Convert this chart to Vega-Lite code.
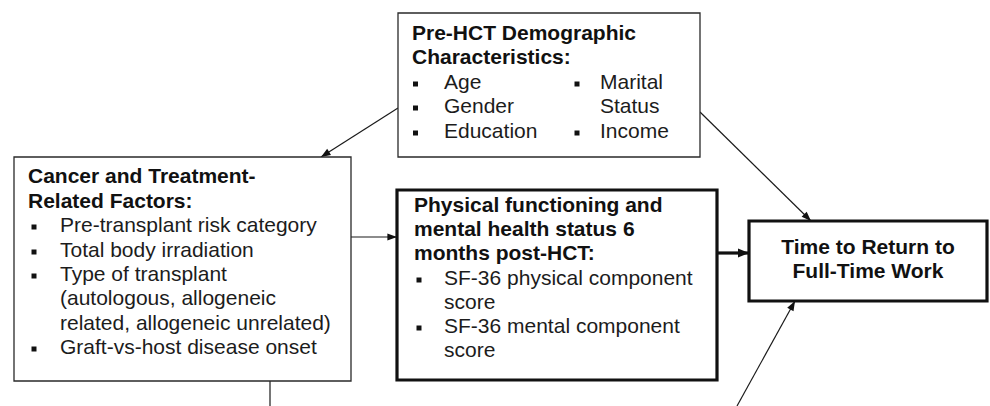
{
  "$schema": "https://vega.github.io/schema/vega-lite/v6.json",
  "width": 990,
  "height": 406,
  "autosize": "none",
  "padding": 0,
  "background": "white",
  "config": {"view": {"stroke": null}},
  "datasets": {
    "boxes": [
      {"id": "demographic", "x1": 398, "y1": 13, "x2": 700, "y2": 157},
      {"id": "cancer", "x1": 14, "y1": 157, "x2": 351, "y2": 381},
      {"id": "physical", "x1": 397, "y1": 190, "x2": 717, "y2": 380},
      {"id": "time", "x1": 749, "y1": 221, "x2": 987, "y2": 301}
    ],
    "texts": [
      {"box": "demographic", "role": "heading", "text": "Pre-HCT Demographic", "x": 412, "y": 40},
      {"box": "demographic", "role": "heading", "text": "Characteristics:", "x": 412, "y": 64},
      {"box": "demographic", "role": "item", "text": "Age", "x": 444, "y": 89},
      {"box": "demographic", "role": "item", "text": "Gender", "x": 444, "y": 113},
      {"box": "demographic", "role": "item", "text": "Education", "x": 444, "y": 138},
      {"box": "demographic", "role": "item", "text": "Marital", "x": 600, "y": 89},
      {"box": "demographic", "role": "item", "text": "Status", "x": 600, "y": 113},
      {"box": "demographic", "role": "item", "text": "Income", "x": 600, "y": 138},
      {"box": "cancer", "role": "heading", "text": "Cancer and Treatment-", "x": 28, "y": 183},
      {"box": "cancer", "role": "heading", "text": "Related Factors:", "x": 28, "y": 208},
      {"box": "cancer", "role": "item", "text": "Pre-transplant risk category", "x": 60, "y": 232},
      {"box": "cancer", "role": "item", "text": "Total body irradiation", "x": 60, "y": 257},
      {"box": "cancer", "role": "item", "text": "Type of transplant", "x": 60, "y": 281},
      {"box": "cancer", "role": "item", "text": "(autologous, allogeneic", "x": 60, "y": 305},
      {"box": "cancer", "role": "item", "text": "related, allogeneic unrelated)", "x": 60, "y": 330},
      {"box": "cancer", "role": "item", "text": "Graft-vs-host disease onset", "x": 60, "y": 354},
      {"box": "physical", "role": "heading", "text": "Physical functioning and", "x": 414, "y": 212},
      {"box": "physical", "role": "heading", "text": "mental health status 6", "x": 414, "y": 236},
      {"box": "physical", "role": "heading", "text": "months post-HCT:", "x": 414, "y": 260},
      {"box": "physical", "role": "item", "text": "SF-36 physical component", "x": 444, "y": 285},
      {"box": "physical", "role": "item", "text": "score", "x": 444, "y": 309},
      {"box": "physical", "role": "item", "text": "SF-36 mental component", "x": 444, "y": 333},
      {"box": "physical", "role": "item", "text": "score", "x": 444, "y": 357},
      {"box": "time", "role": "outcome", "text": "Time to Return to", "x": 868, "y": 254},
      {"box": "time", "role": "outcome", "text": "Full-Time Work", "x": 868, "y": 278}
    ],
    "bullets": [
      {"box": "demographic", "x": 415.5, "y": 84},
      {"box": "demographic", "x": 415.5, "y": 108},
      {"box": "demographic", "x": 415.5, "y": 133},
      {"box": "demographic", "x": 577, "y": 84},
      {"box": "demographic", "x": 577, "y": 133},
      {"box": "cancer", "x": 34, "y": 227},
      {"box": "cancer", "x": 34, "y": 252},
      {"box": "cancer", "x": 34, "y": 276},
      {"box": "cancer", "x": 34, "y": 349},
      {"box": "physical", "x": 419, "y": 280},
      {"box": "physical", "x": 419, "y": 328}
    ],
    "arrows": [
      {"from": "demographic", "to": "cancer", "x": 398, "y": 108, "tx": 321, "ty": 157, "ang": 237.5},
      {"from": "demographic", "to": "time", "x": 700, "y": 112, "tx": 811, "ty": 221, "ang": 134.5},
      {"from": "cancer", "to": "physical", "x": 351, "y": 237, "tx": 397, "ty": 237, "ang": 90},
      {"from": "physical", "to": "time", "x": 717, "y": 253, "tx": 749, "ty": 253, "ang": 90},
      {"from": "offpage", "to": "time", "x": 737, "y": 406, "tx": 795, "ty": 301, "ang": 28.9},
      {"from": "cancer", "to": "offpage", "x": 270, "y": 381, "tx": 270, "ty": 406, "ang": 180}
    ]
  },
  "layer": [
    {
      "data": {"name": "arrows"},
      "transform": [{"filter": "datum.from !== 'physical'"}],
      "mark": {"type": "rule", "color": "#1a1a1a", "strokeWidth": 1.2},
      "encoding": {
        "x": {"field": "x", "type": "quantitative", "scale": {"domain": [0, 990], "nice": false, "zero": false}, "axis": null},
        "y": {"field": "y", "type": "quantitative", "scale": {"domain": [0, 406], "nice": false, "zero": false, "reverse": true}, "axis": null},
        "x2": {"field": "tx"},
        "y2": {"field": "ty"}
      }
    },
    {
      "data": {"name": "arrows"},
      "transform": [{"filter": "datum.from === 'physical'"}],
      "mark": {"type": "rule", "color": "#111111", "strokeWidth": 3.2},
      "encoding": {
        "x": {"field": "x", "type": "quantitative", "scale": {"domain": [0, 990], "nice": false, "zero": false}, "axis": null},
        "y": {"field": "y", "type": "quantitative", "scale": {"domain": [0, 406], "nice": false, "zero": false, "reverse": true}, "axis": null},
        "x2": {"field": "tx"},
        "y2": {"field": "ty"}
      }
    },
    {
      "data": {"name": "arrows"},
      "transform": [{"filter": "datum.to !== 'offpage' && datum.from !== 'physical'"}],
      "mark": {"type": "point", "shape": "M0,0L-1.8,4.8L1.8,4.8Z", "filled": true, "color": "#111111", "size": 16, "opacity": 1},
      "encoding": {
        "x": {"field": "tx", "type": "quantitative", "scale": {"domain": [0, 990], "nice": false, "zero": false}, "axis": null},
        "y": {"field": "ty", "type": "quantitative", "scale": {"domain": [0, 406], "nice": false, "zero": false, "reverse": true}, "axis": null},
        "angle": {"field": "ang", "type": "quantitative", "scale": null}
      }
    },
    {
      "data": {"name": "arrows"},
      "transform": [{"filter": "datum.from === 'physical'"}],
      "mark": {"type": "point", "shape": "M0,0L-1.8,4.4L1.8,4.4Z", "filled": true, "color": "#111111", "size": 25, "opacity": 1},
      "encoding": {
        "x": {"field": "tx", "type": "quantitative", "scale": {"domain": [0, 990], "nice": false, "zero": false}, "axis": null},
        "y": {"field": "ty", "type": "quantitative", "scale": {"domain": [0, 406], "nice": false, "zero": false, "reverse": true}, "axis": null},
        "angle": {"field": "ang", "type": "quantitative", "scale": null}
      }
    },
    {
      "data": {"name": "boxes"},
      "transform": [{"filter": "datum.id === 'demographic' || datum.id === 'cancer'"}],
      "mark": {"type": "rect", "fill": "white", "stroke": "#2a2a2a", "strokeWidth": 1.3},
      "encoding": {
        "x": {"field": "x1", "type": "quantitative", "scale": {"domain": [0, 990], "nice": false, "zero": false}, "axis": null},
        "y": {"field": "y1", "type": "quantitative", "scale": {"domain": [0, 406], "nice": false, "zero": false, "reverse": true}, "axis": null},
        "x2": {"field": "x2"},
        "y2": {"field": "y2"}
      }
    },
    {
      "data": {"name": "boxes"},
      "transform": [{"filter": "datum.id === 'physical' || datum.id === 'time'"}],
      "mark": {"type": "rect", "fill": "white", "stroke": "#111111", "strokeWidth": 3.2},
      "encoding": {
        "x": {"field": "x1", "type": "quantitative", "scale": {"domain": [0, 990], "nice": false, "zero": false}, "axis": null},
        "y": {"field": "y1", "type": "quantitative", "scale": {"domain": [0, 406], "nice": false, "zero": false, "reverse": true}, "axis": null},
        "x2": {"field": "x2"},
        "y2": {"field": "y2"}
      }
    },
    {
      "data": {"name": "bullets"},
      "mark": {"type": "point", "shape": "square", "filled": true, "color": "#111111", "size": 25, "opacity": 1},
      "encoding": {
        "x": {"field": "x", "type": "quantitative", "scale": {"domain": [0, 990], "nice": false, "zero": false}, "axis": null},
        "y": {"field": "y", "type": "quantitative", "scale": {"domain": [0, 406], "nice": false, "zero": false, "reverse": true}, "axis": null}
      }
    },
    {
      "data": {"name": "texts"},
      "transform": [{"filter": "datum.role === 'item'"}],
      "mark": {"type": "text", "align": "left", "baseline": "alphabetic", "font": "Liberation Sans", "fontSize": 21, "color": "#1c1c1c"},
      "encoding": {
        "x": {"field": "x", "type": "quantitative", "scale": {"domain": [0, 990], "nice": false, "zero": false}, "axis": null},
        "y": {"field": "y", "type": "quantitative", "scale": {"domain": [0, 406], "nice": false, "zero": false, "reverse": true}, "axis": null},
        "text": {"field": "text"}
      }
    },
    {
      "data": {"name": "texts"},
      "transform": [{"filter": "datum.role === 'heading'"}],
      "mark": {"type": "text", "align": "left", "baseline": "alphabetic", "font": "Liberation Sans", "fontSize": 21, "fontWeight": "bold", "color": "#111111"},
      "encoding": {
        "x": {"field": "x", "type": "quantitative", "scale": {"domain": [0, 990], "nice": false, "zero": false}, "axis": null},
        "y": {"field": "y", "type": "quantitative", "scale": {"domain": [0, 406], "nice": false, "zero": false, "reverse": true}, "axis": null},
        "text": {"field": "text"}
      }
    },
    {
      "data": {"name": "texts"},
      "transform": [{"filter": "datum.role === 'outcome'"}],
      "mark": {"type": "text", "align": "center", "baseline": "alphabetic", "font": "Liberation Sans", "fontSize": 21, "fontWeight": "bold", "color": "#111111"},
      "encoding": {
        "x": {"field": "x", "type": "quantitative", "scale": {"domain": [0, 990], "nice": false, "zero": false}, "axis": null},
        "y": {"field": "y", "type": "quantitative", "scale": {"domain": [0, 406], "nice": false, "zero": false, "reverse": true}, "axis": null},
        "text": {"field": "text"}
      }
    }
  ]
}
